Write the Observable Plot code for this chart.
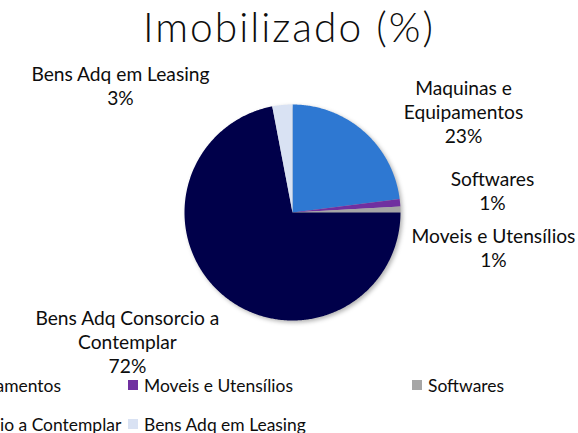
<!DOCTYPE html>
<html><head><meta charset="utf-8">
<script src="https://cdn.jsdelivr.net/npm/d3@7"></script>
<script src="https://cdn.jsdelivr.net/npm/@observablehq/plot@0.6"></script>
<style>
body{margin:0;background:#fff;}
#wrap{position:relative;width:578px;height:433px;overflow:hidden;font-family:Lato,sans-serif;color:#0d0d0d;}
#title{position:absolute;left:0;top:0;width:578px;text-align:center;white-space:nowrap;font-weight:300;}
#chart{position:absolute;left:0;top:0;}
.item{position:absolute;white-space:nowrap;display:flex;align-items:center;height:22px;}
.sw{width:10px;height:10px;margin-right:6px;flex:none;}
#chart g[aria-label="line"]{filter:drop-shadow(2px 2px 2px rgba(0,0,0,0.3));}
</style></head><body><div id="wrap"><div id="chart"></div><div id="title"></div><div id="legend"></div></div>
<script>
// ---- data ----
const chartTitle = "Imobilizado (%)";
const categories = ["Maquinas e Equipamentos", "Moveis e Utensílios", "Softwares", "Bens Adq Consorcio a Contemplar", "Bens Adq em Leasing"];
const values = [23, 1.1, 0.9, 72, 3];
const percentLabels = ["23%", "1%", "1%", "72%", "3%"];
const wrappedNames = ["Maquinas e\nEquipamentos", "Moveis e Utensílios", "Softwares", "Bens Adq Consorcio a\nContemplar", "Bens Adq em Leasing"];
const colors = ["#2E78D2", "#7030A0", "#A6A6A6", "#00004A", "#D9E2F3"];

// ---- layout (not data) ----
const W = 578, H = 433, cx = 292, cy = 212, rpx = 108;
const labelNudge = [[0.922, 0.184], [0.865, -0.416], [0.852, 0.175], [-0.891, -0.424], [-1.499, 0.179]];
const legendCols = [0, 1, 2, 0, 1], legendRows = [0, 0, 0, 1, 1];
const fam = "Lato";

const ctx = document.createElement("canvas").getContext("2d");
function fit(text, target, weight = 400, spacing = 0) {
  ctx.font = `${weight} 100px ${fam}`;
  const w = ctx.measureText(text).width;
  return (target - spacing * text.length) * 100 / w;
}
const labelSize = fit("Moveis e Utensílios", 164);
const legendSize = fit("Moveis e Utensílios", 149);
const titleSpacing = 2;
const titleSize = fit(chartTitle, 292, 300, titleSpacing);

const data = categories.map((c, i) => ({cat: c, value: values[i], i}));
const arcs = d3.pie().sort(null).value(d => d.value)(data);

const pts = [];
arcs.forEach(a => {
  const n = Math.max(4, Math.ceil((a.endAngle - a.startAngle) / 0.01));
  pts.push({x: 0, y: 0, cat: a.data.cat});
  for (let k = 0; k <= n; k++) {
    const t = a.startAngle + (a.endAngle - a.startAngle) * k / n;
    pts.push({x: Math.sin(t), y: Math.cos(t), cat: a.data.cat});
  }
  pts.push({x: 0, y: 0, cat: a.data.cat});
});

const labels = arcs.map((a, i) => {
  const m = (a.startAngle + a.endAngle) / 2;
  return {
    x: Math.sin(m) + labelNudge[i][0],
    y: Math.cos(m) + labelNudge[i][1],
    text: wrappedNames[i] + "\n" + percentLabels[i]
  };
});

const plot = Plot.plot({
  width: W, height: H, margin: 0,
  x: {domain: [-cx / rpx, (W - cx) / rpx], axis: null},
  y: {domain: [(cy - H) / rpx, cy / rpx], axis: null},
  color: {domain: categories, range: colors},
  style: {fontFamily: fam, background: "transparent"},
  marks: [
    Plot.line(pts, {x: "x", y: "y", z: "cat", fill: "cat", stroke: "none", curve: "linear"}),
    Plot.text(labels, {x: "x", y: "y", text: "text", lineAnchor: "middle", textAnchor: "middle",
      fontSize: labelSize, lineHeight: 24 / labelSize, fill: "#0d0d0d", fontFamily: fam})
  ]
});
document.getElementById("chart").appendChild(plot);

const t = document.getElementById("title");
t.textContent = chartTitle;
t.style.fontSize = titleSize + "px";
t.style.letterSpacing = titleSpacing + "px";
t.style.top = (30 - titleSize * 0.7) + "px";

const lg = document.getElementById("legend");
categories.forEach((c, i) => {
  const it = document.createElement("div");
  it.className = "item";
  it.style.left = (-156 + legendCols[i] * 284) + "px";
  it.style.top = (385 + legendRows[i] * 39 - 11) + "px";
  it.style.fontSize = legendSize + "px";
  const sw = document.createElement("span");
  sw.className = "sw";
  sw.style.background = colors[i];
  const tx = document.createElement("span");
  tx.textContent = c;
  it.appendChild(sw); it.appendChild(tx);
  lg.appendChild(it);
});
</script></body></html>
